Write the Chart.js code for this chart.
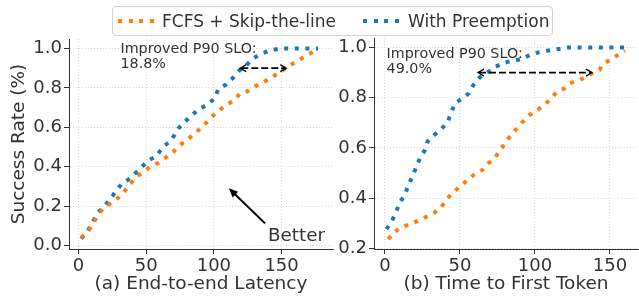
<!DOCTYPE html>
<html>
<head>
<meta charset="utf-8">
<script src="https://cdn.jsdelivr.net/npm/chart.js@4.4.1/dist/chart.umd.min.js"></script>
<style>
  body { margin: 0; background: #fff; }
  #wrap { position: relative; width: 639px; height: 296px; overflow: hidden; font-family: "DejaVu Sans", sans-serif; color: #333; }
  #leftBox { position: absolute; left: 0; top: 0; width: 338px; height: 296px; }
  #rightBox { position: absolute; left: 336px; top: 0; width: 303px; height: 296px; }
  .legend { position: absolute; left: 112px; top: 6px; width: 439px; height: 28px; border: 1px solid #d3d3d3; border-radius: 4px; background: rgba(255,255,255,0.85); z-index: 5; }
  .legend .sample { position: absolute; top: 12px; width: 36px; height: 4px; }
  .legend .label { position: absolute; top: 0; line-height: 28px; font-size: 17px; white-space: nowrap; }
</style>
</head>
<body>
<div id="wrap">
  <div id="leftBox"><canvas id="e2eChart" width="338" height="296"></canvas></div>
  <div id="rightBox"><canvas id="ttftChart" width="303" height="296"></canvas></div>
  <div class="legend">
    <span class="sample" style="left:5px; background: repeating-linear-gradient(to right, #ff7f0e 0 4px, transparent 4px 10.6px);"></span>
    <span class="label" style="left:49px;">FCFS + Skip-the-line</span>
    <span class="sample" style="left:250px; background: repeating-linear-gradient(to right, #1f77b4 0 4px, transparent 4px 10.6px);"></span>
    <span class="label" style="left:295px;">With Preemption</span>
  </div>
</div>
<script>
// series names
const seriesNames = ['FCFS + Skip-the-line', 'With Preemption'];

// (a) End-to-end latency CDF
const e2eFcfsX = [2, 7, 10.6, 14, 18, 23, 29, 34, 38, 43, 48, 52.6, 59, 64, 70, 75, 80, 85, 90, 95, 99.5, 104, 109, 115.5, 119, 125, 131, 137, 143, 149, 154, 160, 166, 172, 177];
const e2eFcfsY = [0.039, 0.07, 0.11, 0.15, 0.186, 0.21, 0.24, 0.275, 0.31, 0.35, 0.373, 0.398, 0.42, 0.444, 0.475, 0.51, 0.534, 0.565, 0.593, 0.627, 0.66, 0.686, 0.712, 0.74, 0.77, 0.783, 0.81, 0.83, 0.856, 0.88, 0.905, 0.93, 0.954, 0.978, 0.995];
const e2ePreX = [2, 7, 10.6, 14, 19, 23, 26.7, 31.6, 38, 43, 48, 52.6, 57.5, 62.5, 68.6, 73.6, 78.5, 83.5, 89.6, 94.6, 100.7, 103, 109, 114, 119, 124, 129, 134, 141.5, 149, 156, 164, 171, 177];
const e2ePreY = [0.034, 0.076, 0.12, 0.164, 0.198, 0.23, 0.266, 0.31, 0.34, 0.373, 0.407, 0.435, 0.453, 0.5, 0.534, 0.593, 0.627, 0.66, 0.695, 0.712, 0.746, 0.79, 0.817, 0.85, 0.89, 0.915, 0.95, 0.97, 0.99, 1.0, 1.0, 1.0, 1.0, 1.0];

// (b) Time to first token CDF
const ttftFcfsX = [2.2, 6, 11, 16.7, 22, 27.8, 33, 37.8, 41, 45.6, 50, 55, 60, 65, 69, 73.3, 76.7, 80.4, 83.8, 88, 92, 96.7, 101.6, 106, 110, 114.4, 120, 124.4, 130, 134.4, 139, 143, 145, 150, 155.6, 160];
const ttftFcfsY = [0.236, 0.264, 0.284, 0.296, 0.309, 0.326, 0.342, 0.366, 0.395, 0.423, 0.446, 0.472, 0.496, 0.512, 0.539, 0.559, 0.592, 0.619, 0.652, 0.678, 0.705, 0.732, 0.751, 0.771, 0.791, 0.822, 0.838, 0.86, 0.871, 0.884, 0.9, 0.911, 0.931, 0.951, 0.971, 0.988];
const ttftPreX = [1, 4.4, 7.3, 9.6, 13.3, 15.6, 18.4, 21, 23.3, 26.7, 28.4, 33, 37.8, 42, 44.4, 46.7, 51.8, 56, 59, 63, 67.8, 73.3, 78.9, 85, 91, 96.7, 102, 107.8, 114.4, 122, 130, 141, 150, 156.7, 160];
const ttftPreY = [0.276, 0.306, 0.342, 0.379, 0.413, 0.452, 0.486, 0.526, 0.559, 0.592, 0.625, 0.652, 0.676, 0.705, 0.745, 0.778, 0.798, 0.818, 0.851, 0.88, 0.898, 0.922, 0.938, 0.948, 0.953, 0.971, 0.98, 0.987, 0.993, 1, 1, 1, 1, 1, 1];

// tick labels
const e2eXTicks = [0, 50, 100, 150];
const e2eYTicks = [0, 0.2, 0.4, 0.6, 0.8, 1.0];
const ttftXTicks = [0, 50, 100, 150];
const ttftYTicks = [0.2, 0.4, 0.6, 0.8, 1.0];

// P90 improvement (x from preemption to FCFS at 0.9 success)
const p90Level = 0.9;
const e2eP90 = [119.5, 153.5];
const ttftP90 = [62, 138];
const e2eNote = ['Improved P90 SLO:', '18.8%'];
const ttftNote = ['Improved P90 SLO:', '49.0%'];

const orange = '#ff7f0e';
const blue = '#1f77b4';
const textColor = '#333';
const fontFamily = '"DejaVu Sans", sans-serif';

function toPoints(xs, ys) {
  return xs.map((x, i) => ({ x: x, y: ys[i] }));
}

function lineSet(label, xs, ys, color) {
  return {
    label: label,
    data: toPoints(xs, ys),
    borderColor: color,
    backgroundColor: color,
    borderWidth: 4,
    borderDash: [4, 6.6],
    borderCapStyle: 'butt',
    pointRadius: 0,
    tension: 0,
    fill: false
  };
}

function drawHead(ctx, tipX, tipY, fromX, fromY, len, half, filled) {
  const ang = Math.atan2(tipY - fromY, tipX - fromX);
  const bx = tipX - len * Math.cos(ang), by = tipY - len * Math.sin(ang);
  const px = -Math.sin(ang) * half, py = Math.cos(ang) * half;
  ctx.beginPath();
  ctx.moveTo(bx + px, by + py);
  ctx.lineTo(tipX, tipY);
  ctx.lineTo(bx - px, by - py);
  if (filled) { ctx.closePath(); ctx.fill(); } else { ctx.stroke(); }
}

// draws the P90 arrow, the note and (optionally) the "Better" hint
const notesPlugin = {
  id: 'notes',
  afterDatasetsDraw(chart, args, opts) {
    const ctx = chart.ctx;
    const xs = chart.scales.x, ys = chart.scales.y;
    ctx.save();
    // dashed double arrow
    const x1 = xs.getPixelForValue(opts.p90[0]);
    const x2 = xs.getPixelForValue(opts.p90[1]);
    const yy = ys.getPixelForValue(p90Level);
    ctx.strokeStyle = '#000';
    ctx.lineWidth = 1.8;
    ctx.setLineDash([7, 3]);
    ctx.beginPath();
    ctx.moveTo(x1 + 1, yy);
    ctx.lineTo(x2 - 1, yy);
    ctx.stroke();
    ctx.setLineDash([]);
    ctx.lineWidth = 1.3;
    drawHead(ctx, x1, yy, x2, yy, 6, 3.5, false);
    drawHead(ctx, x2, yy, x1, yy, 6, 3.5, false);

    // note text
    ctx.fillStyle = textColor;
    ctx.font = '14.3px ' + fontFamily;
    ctx.textAlign = 'left';
    ctx.textBaseline = 'alphabetic';
    const tx = xs.getPixelForValue(opts.noteAt[0]);
    const ty = ys.getPixelForValue(opts.noteAt[1]);
    opts.note.forEach((line, i) => ctx.fillText(line, tx, ty + i * 15));

    if (opts.better) {
      const b = opts.better;
      const sx = xs.getPixelForValue(b.from[0]), sy = ys.getPixelForValue(b.from[1]);
      const ex = xs.getPixelForValue(b.to[0]), ey = ys.getPixelForValue(b.to[1]);
      ctx.strokeStyle = '#000';
      ctx.fillStyle = '#000';
      ctx.lineWidth = 2;
      const ang = Math.atan2(ey - sy, ex - sx);
      ctx.beginPath();
      ctx.moveTo(sx, sy);
      ctx.lineTo(ex - 7 * Math.cos(ang), ey - 7 * Math.sin(ang));
      ctx.stroke();
      drawHead(ctx, ex, ey, sx, sy, 9, 4, true);
      ctx.fillStyle = textColor;
      ctx.font = '18.3px ' + fontFamily;
      ctx.fillText(b.text, xs.getPixelForValue(b.textAt[0]), ys.getPixelForValue(b.textAt[1]));
    }
    ctx.restore();
  }
};

function axisOpts(min, max, ticks, title, fit, digits, titlePad) {
  return {
    type: 'linear',
    min: min,
    max: max,
    afterBuildTicks: (scale) => { scale.ticks = ticks.map(v => ({ value: v })); },
    afterFit: fit,
    grid: { color: '#cfcfcf', lineWidth: 0.8, tickColor: '#333', tickLength: 5, tickWidth: 1 },
    border: { color: '#333', width: 1, dash: [1, 2] },
    ticks: {
      color: textColor,
      font: { family: fontFamily, size: 18 },
      padding: 2,
      autoSkip: false,
      maxRotation: 0,
      callback: (v) => Number(v).toFixed(digits)
    },
    title: {
      display: !!title,
      text: title,
      color: textColor,
      font: { family: fontFamily, size: 18.5 },
      padding: titlePad
    }
  };
}

function makeChart(id, sets, cfg) {
  return new Chart(document.getElementById(id).getContext('2d'), {
    type: 'line',
    data: { datasets: sets },
    options: {
      responsive: false,
      animation: false,
      devicePixelRatio: 1,
      layout: { padding: cfg.padding },
      plugins: {
        legend: { display: false },
        tooltip: { enabled: false },
        notes: cfg.notes
      },
      scales: {
        x: axisOpts(cfg.xr[0], cfg.xr[1], cfg.xTicks, cfg.xTitle, (s) => { s.height = 47; }, 0, { top: 0, bottom: 1 }),
        y: axisOpts(cfg.yr[0], cfg.yr[1], cfg.yTicks, cfg.yTitle, (s) => { s.width = cfg.yWidth; }, 1, { top: 8, bottom: 0 })
      }
    },
    plugins: [notesPlugin]
  });
}

makeChart('e2eChart', [
  lineSet(seriesNames[0], e2eFcfsX, e2eFcfsY, orange),
  lineSet(seriesNames[1], e2ePreX, e2ePreY, blue)
], {
  xr: [-7, 188], yr: [-0.018, 1.048],
  xTicks: e2eXTicks, yTicks: e2eYTicks,
  xTitle: '(a) End-to-end Latency', yTitle: 'Success Rate (%)',
  yWidth: 69,
  padding: { top: 39, right: 5, left: 0, bottom: 0 },
  notes: {
    p90: e2eP90, note: e2eNote, noteAt: [31, 0.978],
    better: { from: [137.8, 0.112], to: [111.1, 0.29], text: 'Better', textAt: [140, 0.022] }
  }
});

makeChart('ttftChart', [
  lineSet(seriesNames[0], ttftFcfsX, ttftFcfsY, orange),
  lineSet(seriesNames[1], ttftPreX, ttftPreY, blue)
], {
  xr: [-7.3, 168.7], yr: [0.197, 1.038],
  xTicks: ttftXTicks, yTicks: ttftYTicks,
  xTitle: '(b) Time to First Token', yTitle: '',
  yWidth: 38,
  padding: { top: 38, right: 1, left: 0, bottom: 0 },
  notes: { p90: ttftP90, note: ttftNote, noteAt: [1.1, 0.96] }
});
</script>
</body>
</html>
